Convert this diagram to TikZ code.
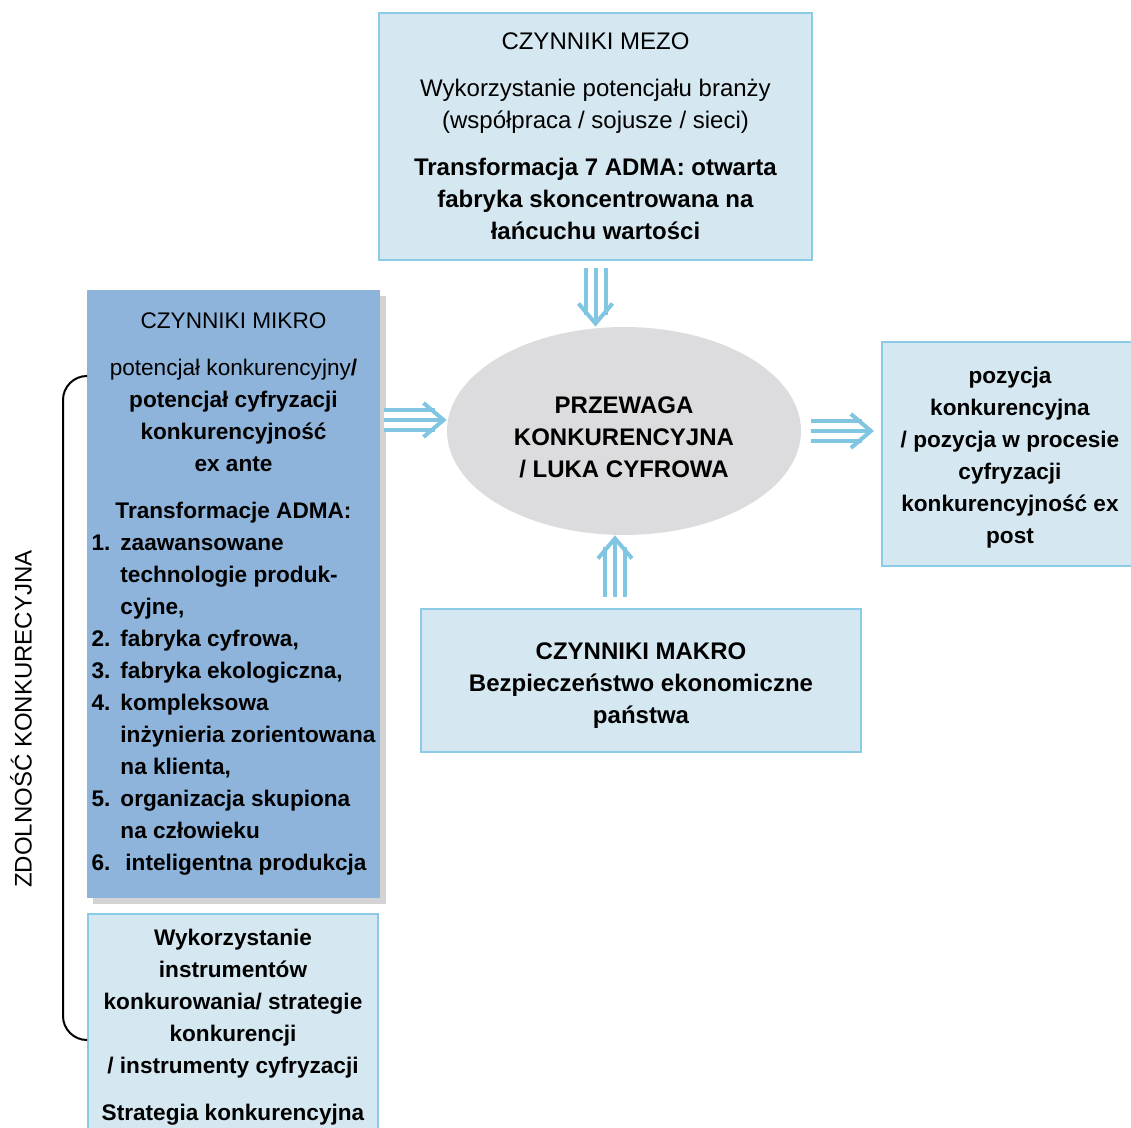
\documentclass[tikz,border=0pt]{standalone}
\usepackage{fontspec}
\setmainfont{Liberation Sans}
\usetikzlibrary{shapes.geometric,arrows.meta,shadows,calc}
\definecolor{boxfill}{HTML}{D5E8F1}
\definecolor{boxline}{HTML}{8CCBE5}
\definecolor{arrowc}{HTML}{80C5E2}
\definecolor{mikrofill}{HTML}{8EB4DB}
\definecolor{gapfill}{HTML}{DCDCDE}
\newcommand{\boxfont}{\fontsize{12}{16}\selectfont}
\newcommand{\smallboxfont}{\fontsize{11.3}{16}\selectfont}
\newcommand{\triarr}[2]{%
    \draw[triside] #1 -- #2;
    \draw[trimid] #1 -- #2;}
\begin{document}
\begin{tikzpicture}
            [
                x=0.5pt, y=-0.5pt,
                every node/.style = {font=\boxfont},
                light/.style = {draw=boxline, line width=1pt, fill=boxfill, align=center, inner sep=0pt},
                mikro/.style = {fill=mikrofill, align=center, inner sep=0pt, font=\smallboxfont,
                    drop shadow={shadow xshift=3pt, shadow yshift=-3pt, fill=gray, opacity=0.35}},
                gap/.style = {ellipse, fill=gapfill, align=center, inner sep=0pt, font=\boxfont\bfseries},
                triside/.style = {draw=arrowc, line width=2pt, double=white, double distance=8pt, shorten >=6pt},
                trimid/.style = {draw=arrowc, line width=2pt, -{Straight Barb[length=10pt, width=17pt]}}
            ]
            \useasboundingbox (0,0) rectangle (1131,1128);
            \node[light, minimum width=216.5pt, minimum height=123.5pt] (mezo) at (595.5,136.5)
                {CZYNNIKI MEZO\\[7.5pt]
                 Wykorzystanie potencjału branży\\
                 (współpraca / sojusze / sieci)\\[7.5pt]
                 \textbf{Transformacja 7 ADMA: otwarta}\\
                 \textbf{fabryka skoncentrowana na}\\
                 \textbf{łańcuchu wartości}};
            \node[mikro, minimum width=146.5pt, minimum height=304pt] (mikro) at (233.5,594)
                {\rule{0pt}{10pt}CZYNNIKI MIKRO\\[7.5pt]
                 potencjał konkurencyjny\textbf{/}\\
                 \textbf{potencjał cyfryzacji}\\
                 \textbf{konkurencyjność}\\
                 \textbf{ex ante}\\[7.5pt]
                 \textbf{Transformacje ADMA:}\\
                 \bfseries
                 \begin{tabular}[t]{@{}l@{\hspace{5pt}}l@{}}
                     1. & zaawansowane\\
                        & technologie produk-\\
                        & cyjne,\\
                     2. & fabryka cyfrowa,\\
                     3. & fabryka ekologiczna,\\
                     4. & kompleksowa\\
                        & inżynieria zorientowana\\
                        & na klienta,\\
                     5. & organizacja skupiona\\
                        & na człowieku\\
                     6. & \hspace{2.5pt}inteligentna produkcja
                 \end{tabular}};
            \node[gap, minimum width=177pt, minimum height=104pt] (gap) at (624,431)
                {\rule{0pt}{14.7pt}PRZEWAGA\\ KONKURENCYJNA\\ / LUKA CYFROWA};
            \node[light, minimum width=128pt, minimum height=112pt, font=\smallboxfont\bfseries] (pos) at (1010,454)
                {\rule{0pt}{12.3pt}pozycja\\ konkurencyjna\\ / pozycja w procesie\\ cyfryzacji\\ konkurencyjność ex\\ post};
            \node[light, minimum width=220pt, minimum height=71.5pt, font=\boxfont\bfseries] (makro) at (641,680.5)
                {\rule{0pt}{13pt}CZYNNIKI MAKRO\\ Bezpieczeństwo ekonomiczne\\ państwa};
            \node[light, anchor=north, minimum width=145pt, inner ysep=7.5pt, font=\smallboxfont\bfseries] (instr) at (233,913)
                {Wykorzystanie\\ instrumentów\\ konkurowania/ strategie\\ konkurencji\\ / instrumenty cyfryzacji\\[7.5pt]
                 Strategia konkurencyjna\\[20pt] \mbox{}};
            \node[rotate=90] (zdol) at (21,719) {ZDOLNOŚĆ KONKURECYJNA};
            % brace
            \coordinate (btop) at (mikro.west |- 0,376);
            \coordinate (bbot) at (mikro.west |- 0,1040);
            \draw[line width=1pt, rounded corners=12pt] (btop) -- (63,376) -- (63,1040) -- (bbot);
            % arrows
            \triarr{([yshift=-3.5pt]mezo.south)}{(mezo.south |- gap.north)}
            \triarr{($(mikro.east |- gap.west)+(4,-11)$)}{($(gap.west)+(0,-11)$)}
            \triarr{($(gap.east)+(10,0)$)}{($(pos.west |- gap.east)+(-7,0)$)}
            \triarr{($(makro.north -| gap.south)+(-9,-11)$)}{($(gap.south)+(-9,0)$)}
        \end{tikzpicture}
\end{document}
